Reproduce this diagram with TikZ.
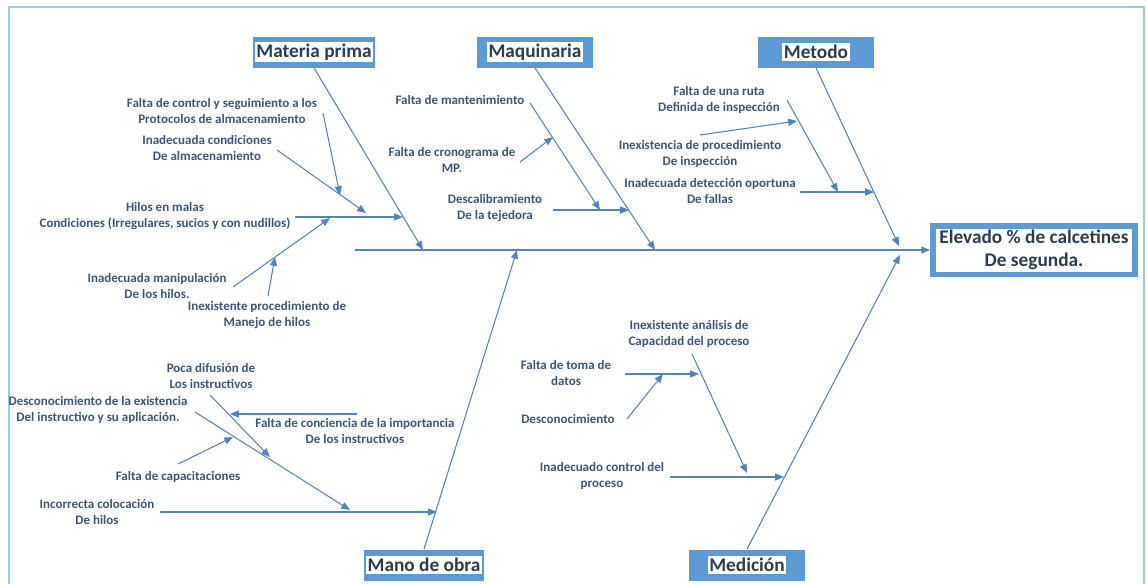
\documentclass[tikz,border=0pt]{standalone}
\usepackage{fontspec}
\setmainfont{Carlito}
\usetikzlibrary{arrows.meta}

\definecolor{catblue}{RGB}{91,155,213}
\definecolor{bonecol}{RGB}{84,130,186}
\definecolor{labeltext}{RGB}{62,86,116}
\definecolor{headtext}{RGB}{45,60,80}
\definecolor{framecol}{RGB}{146,205,224}

\newcommand{\whitebg}[1]{{\setlength{\fboxsep}{1pt}\colorbox{white}{#1}}}

\begin{document}
\begin{tikzpicture}[
        x=0.02cm, y=-0.02cm,
        category/.style={
            fill=catblue,
            minimum width=2.32cm,
            minimum height=0.62cm,
            inner sep=1pt,
            text=headtext,
            font=\fontsize{11}{13}\selectfont\bfseries
        },
        effect/.style={
            draw=catblue,
            line width=3.4pt,
            fill=white,
            align=center,
            minimum width=4.04cm,
            minimum height=0.98cm,
            inner sep=1pt,
            text=headtext,
            font=\fontsize{11}{13}\selectfont\bfseries
        },
        cause/.style={
            align=center,
            inner sep=0pt,
            text=labeltext,
            font=\fontsize{7.4}{9}\selectfont\bfseries
        },
        bone/.style={-{Triangle[length=5pt,width=4pt]}, draw=bonecol, line width=0.6pt}
        ]
        
        \useasboundingbox (0,0) rectangle (1147,583);
        \draw[framecol, line width=1.1pt] (9,7) rectangle (1144,600);
        
        % Categories and effect
        \node[category] (mp) at (314,52) {\whitebg{Materia prima}};
        \node[category] (ma) at (535,52) {\whitebg{Maquinaria}};
        \node[category] (me) at (816,52) {\whitebg{Metodo}};
        \node[category] (mo) at (424,565) {\whitebg{Mano de obra}};
        \node[category] (md) at (747,565) {\whitebg{Medición}};
        \node[effect] (problem) at (1034,250) {Elevado \% de calcetines\\De segunda.};
        
        % Materia prima causes
        \node[cause] (mpa) at (222,111) {Falta de control y seguimiento a los\\Protocolos de almacenamiento};
        \node[cause] (mpb) at (207,148) {Inadecuada condiciones\\De almacenamiento};
        \node[cause] (mpc) at (165,216) {Hilos en malas\\Condiciones (Irregulares, sucios y con nudillos)};
        \node[cause] (mpd) at (157,286) {Inadecuada manipulación\\De los hilos.};
        \node[cause] (mpe) at (267,315) {Inexistente procedimiento de\\Manejo de hilos};
        
        % Maquinaria causes
        \node[cause] (maa) at (460,100) {Falta de mantenimiento};
        \node[cause] (mab) at (452,160) {Falta de cronograma de\\MP.};
        \node[cause] (mac) at (495,208) {Descalibramiento\\De la tejedora};
        
        % Metodo causes
        \node[cause] (mea) at (719,100) {Falta de una ruta\\Definida de inspección};
        \node[cause] (meb) at (700,154) {Inexistencia de procedimiento\\De inspección};
        \node[cause] (mec) at (710,191) {Inadecuada detección oportuna\\De fallas};
        
        % Mano de obra causes
        \node[cause] (moa) at (211,376) {Poca difusión de\\Los instructivos};
        \node[cause] (mob) at (98,410) {Desconocimiento de la existencia\\Del instructivo y su aplicación.};
        \node[cause] (moc) at (355,431) {Falta de conciencia de la importancia\\De los instructivos};
        \node[cause] (mod) at (178,477) {Falta de capacitaciones};
        \node[cause] (moe) at (97,512) {Incorrecta colocación\\De hilos};
        
        % Medicion causes
        \node[cause] (mda) at (689,334) {Inexistente análisis de\\Capacidad del proceso};
        \node[cause] (mdb) at (566,373) {Falta de toma de\\datos};
        \node[cause] (mdc) at (568,419) {Desconocimiento};
        \node[cause] (mdd) at (602,476) {Inadecuado control del\\proceso};
        
        % Spine and main bones
        \coordinate (spine) at (355,250);
        \coordinate (mpend) at (423,250);
        \coordinate (maend) at (655,250);
        \coordinate (meend) at (899,246);
        \coordinate (moend) at (517,250);
        \coordinate (mdend) at (900,255);
        
        \draw[bone] (spine) -- (problem.west);
        \draw[bone] (mp.south) -- (mpend);
        \draw[bone] (ma.south) -- (maend);
        \draw[bone] (me.south) -- (meend);
        \draw[bone] (mo.north) -- (moend);
        \draw[bone] (md.north) -- (mdend);
        
        % Cause arrows (1 = tail, 2 = head)
        \coordinate (mpa1) at (323,113); \coordinate (mpa2) at (340,195);
        \coordinate (mpb1) at (277,150); \coordinate (mpb2) at (366,213);
        \coordinate (mpc1) at (295,217); \coordinate (mpc2) at (403,217);
        \coordinate (mpd1) at (233,287); \coordinate (mpd2) at (330,218);
        \coordinate (mpe1) at (268,296); \coordinate (mpe2) at (275,257);
        
        \coordinate (maa1) at (530,103); \coordinate (maa2) at (600,210);
        \coordinate (mab1) at (520,162); \coordinate (mab2) at (553,137);
        \coordinate (mac1) at (553,210); \coordinate (mac2) at (629,210);
        
        \coordinate (mea1) at (787,100); \coordinate (mea2) at (838,192);
        \coordinate (meb1) at (700,135); \coordinate (meb2) at (797,121);
        \coordinate (mec1) at (800,192); \coordinate (mec2) at (874,192);
        
        \coordinate (moa1) at (210,395); \coordinate (moa2) at (270,457);
        \coordinate (mob1) at (195,412); \coordinate (mob2) at (350,510);
        \coordinate (moc1) at (357,414); \coordinate (moc2) at (230,414);
        \coordinate (mod1) at (178,464); \coordinate (mod2) at (233,437);
        \coordinate (moe1) at (160,512); \coordinate (moe2) at (437,512);
        
        \coordinate (mda1) at (692,354); \coordinate (mda2) at (747,473);
        \coordinate (mdb1) at (625,374); \coordinate (mdb2) at (699,374);
        \coordinate (mdc1) at (627,419); \coordinate (mdc2) at (663,374);
        \coordinate (mdd1) at (670,477); \coordinate (mdd2) at (784,477);
        
        \foreach \c in {mpa,mpb,mpc,mpd,mpe,maa,mab,mac,mea,meb,mec,moa,mob,moc,mod,moe,mda,mdb,mdc,mdd}
            \draw[bone] (\c1) -- (\c2);
        
    \end{tikzpicture}
\end{document}
